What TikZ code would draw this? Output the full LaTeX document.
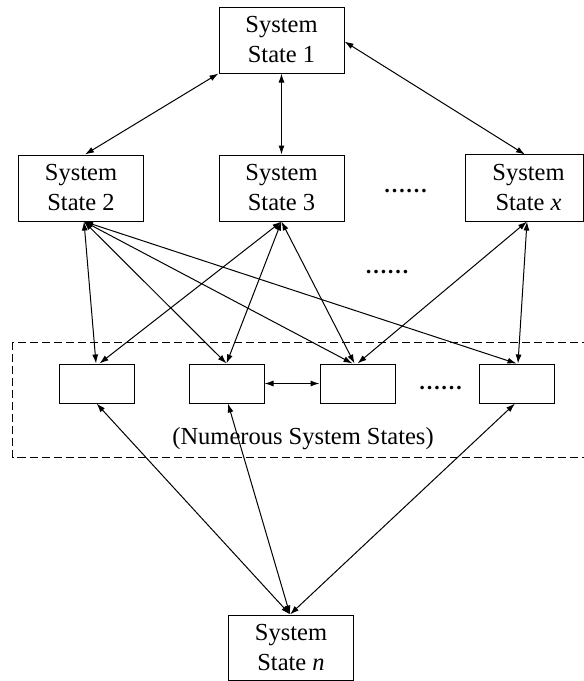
\documentclass[tikz,border=0pt]{standalone}
\usepackage{fontspec}
\setmainfont{Liberation Serif}
\usetikzlibrary{arrows.meta}
\begin{document}
\begin{tikzpicture}[x=1pt,y=-1pt,line width=1pt,
  state/.style={draw, minimum width=125pt, minimum height=66pt, inner sep=0pt,
                align=center, font=\fontsize{24.5}{30}\selectfont},
  cell/.style={draw, minimum width=75pt, minimum height=39pt, inner sep=0pt},
  link/.style={{Latex[length=9pt,width=6pt]}-{Latex[length=9pt,width=6pt]}, line width=1pt},
  more/.style={font=\fontsize{22}{22}\selectfont\bfseries, anchor=base, inner sep=0pt}]
\useasboundingbox (0,0) rectangle (584,681);

% group of numerous states
\draw[dash pattern=on 8pt off 4pt] (12.5,342) rectangle (600,457);

% main states
\node[state] (s1) at (281.5,40) {System\\State 1};
\node[state] (s2) at (81,188) {System\\State 2};
\node[state] (s3) at (281.5,188) {System\\State 3};
\node[state, draw=none] (sx) at (528.5,188) {System\\State \textit{x}};
\draw (sx.north west) rectangle ([xshift=-8pt]sx.south east);
\node[state, minimum height=65pt] (sn) at (291,647.5) {System\\State \textit{n}};

% anonymous states
\node[cell] (c1) at (96.5,383.5) {};
\node[cell] (c2) at (226.5,383.5) {};
\node[cell] (c3) at (357.5,383.5) {};
\node[cell] (c4) at (516.5,383.5) {};

\node[font=\fontsize{24.5}{30}\selectfont, inner sep=0pt] (lbl) at (303,439) {(Numerous System States)};

% ellipses
\node[more] (d1) at (405.5,192) {……};
\node[more] (d2) at (387,273) {……};
\node[more] (d3) at (440.5,389) {……};

% top level links
\draw[link] (s1.south west) -- ([xshift=4pt]s2.north);
\draw[link] (s1.south) -- (s3.north);
\draw[link] ([yshift=-1.5pt]s1.east) -- ([xshift=-3.5pt]sx.north);

% links to the numerous states
\draw[link] ([xshift=3pt]s2.south) -- ([xshift=-0.5pt]c1.north);
\draw[link] ([xshift=3pt]s2.south) -- (c2.north);
\draw[link] ([xshift=3pt]s2.south) -- ([xshift=-5pt]c3.north);
\draw[link] ([xshift=3pt]s2.south) -- (c4.north);
\draw[link] (s3.south) -- ([xshift=3pt]c1.north);
\draw[link] (s3.south) -- (c2.north);
\draw[link] (s3.south) -- ([xshift=-3pt]c3.north);
\draw[link] ([xshift=-1.5pt]sx.south) -- (c3.north);
\draw[link] ([xshift=-1.5pt]sx.south) -- ([xshift=1.5pt]c4.north);
\draw[link] (c2.east) -- (c3.west);

% links to state n
\draw[link] (c1.south) -- ([xshift=-1pt]sn.north);
\draw[link] ([xshift=1.5pt]c2.south) -- ([xshift=-1pt]sn.north);
\draw[link] ([xshift=-1.5pt]c4.south) -- ([xshift=-1pt]sn.north);
\end{tikzpicture}
\end{document}
